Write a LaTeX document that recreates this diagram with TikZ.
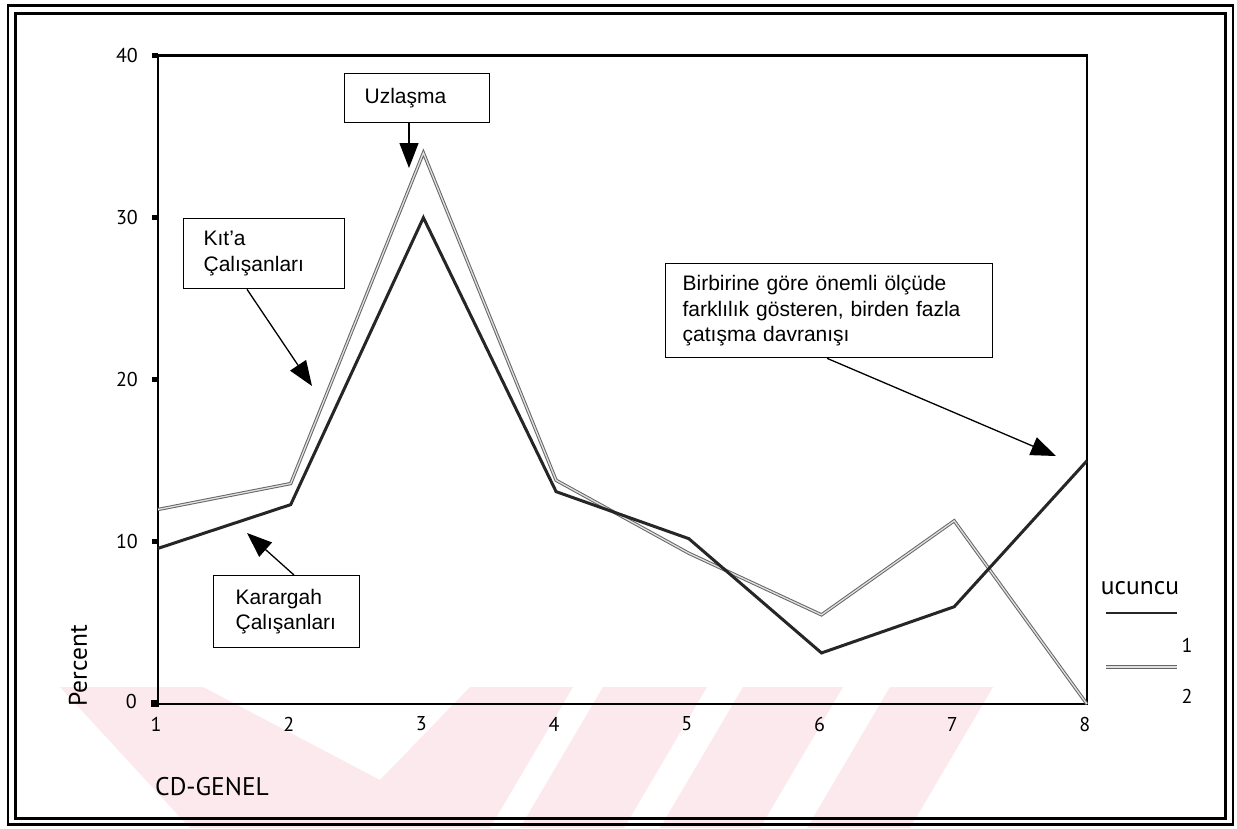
\documentclass[tikz,border=0pt]{standalone}
\usepackage{fontspec}
\setmainfont{Liberation Sans}
\newfontfamily\axisfont{PT Sans}
\usetikzlibrary{arrows.meta,calc}
\definecolor{wmpink}{RGB}{252,233,237}
\begin{document}
\begin{tikzpicture}[x=1pt,y=-1pt,
  callout/.style={draw=black, line width=1.3pt, fill=white, inner ysep=0pt,
    align=left, anchor=north west, font=\fontsize{21}{25.5}\selectfont},
  pointer/.style={line width=1.3pt, -{Triangle[length=25pt,width=19pt]}},
  ticklbl/.style={font=\axisfont\fontsize{20}{22}\selectfont, inner sep=0pt},
  biglbl/.style={font=\axisfont\fontsize{25.5}{28}\selectfont, inner sep=0pt},
  seriesone/.style={line width=3pt, draw=black!85, line join=miter},
  seriestwo/.style={line width=1pt, draw=black!60, double=black!12, double distance=1.3pt, line join=miter},
  tickmark/.style={fill=black},
]
\useasboundingbox (0,0) rectangle (1237,828);
\fill[white] (0,0) rectangle (1237,828);

% faint watermark strokes below the chart
\begin{scope}
  \clip (0,687) rectangle (1237,828);
  \fill[wmpink] (60,687) -- (203,687) -- (380,780) -- (470,687) -- (573,687)
     -- (490,828) -- (190,828) -- cycle;
  \fill[wmpink] (603,687) -- (707,687) -- (624,828) -- (520,828) -- cycle;
  \fill[wmpink] (743,687) -- (843,687) -- (760,828) -- (660,828) -- cycle;
  \fill[wmpink] (890,687) -- (993,687) -- (910,828) -- (807,828) -- cycle;
\end{scope}

% double page frame
\draw[line width=2.5pt] (8,5.5) rectangle (1233,824.5);
\draw[line width=3pt] (15,13.5) rectangle (1225,818.5);

% plot box
\draw[line width=2.6pt] (158,55.5) rectangle (1087,704);

% y ticks and labels
\foreach \v/\yy in {40/55.5,30/217.6,20/379.8,10/541.9}{
  \fill[tickmark] (152,\yy-2.5) rectangle (158,\yy+2.5);
  \node[ticklbl, anchor=east] (ytick\v) at (138,\yy) {\v};
}
\fill[tickmark] (151,699.5) rectangle (159,707);
\node[ticklbl, anchor=east] (ytick0) at (137,701) {0};

% x tick labels
\foreach \i in {1,...,8}{
  \node[ticklbl] (xtick\i) at ({156+(\i-1)*132.7},724) {\i};
}

\node[biglbl, anchor=west] (xtitle) at (155,787) {CD-GENEL};
\node[biglbl, rotate=90] (ytitle) at (78,666) {Percent};

% data series
\begin{scope}[shift={(25.3,704)}, x=132.7pt, y=16.21pt]
  \draw[seriestwo] plot coordinates {(1,12.0) (2,13.6) (3,34.0) (4,13.8) (5,9.3) (6,5.5) (7,11.3) (8,0)};
  \draw[seriesone] plot coordinates {(1,9.6) (2,12.3) (3,30.0) (4,13.1) (5,10.2) (6,3.15) (7,6.0) (8,15.0)};
\end{scope}

% legend
\node[biglbl] (legtitle) at (1140,588) {ucuncu};
\coordinate (legAa) at (1106,613);
\coordinate (legAb) at (1177,613);
\coordinate (legBa) at (1106,667);
\coordinate (legBb) at (1177,667);
\draw[seriesone, line width=2.6pt] (legAa) -- (legAb);
\draw[seriestwo] (legBa) -- (legBb);
\node[ticklbl] (legone) at (1187,645) {1};
\node[ticklbl] (legtwo) at (1187,696) {2};

% callouts
\node[callout, inner xsep=20pt, text width=105pt, minimum height=49pt] (uz) at (344,73) {Uzlaşma};
\node[callout, inner xsep=20pt, text width=121pt, minimum height=70pt] (kit) at (183,218) {Kıt'a\\Çalışanları};
\node[callout, inner xsep=22pt, text width=102pt, minimum height=72pt] (kar) at (213,575) {Karargah\\Çalışanları};
\node[callout, inner xsep=17pt, text width=293pt, minimum height=94pt] (big) at (665,263)
  {Birbirine göre önemli ölçüde\\farklılık gösteren, birden fazla\\çatışma davranışı};

\coordinate (uztip) at (409,168);
\coordinate (kittip) at (312,386);
\coordinate (kartip) at (247,533);
\coordinate (bigtip) at (1056,456);

\draw[pointer] (uz.south -| uztip) -- (uztip);
\draw[pointer] ($(kit.south west)+(64,0)$) -- (kittip);
\draw[pointer] ($(kar.north west)+(81,0)$) -- (kartip);
\draw[pointer] ($(big.south west)+(162,0)$) -- (bigtip);
\end{tikzpicture}
\end{document}
